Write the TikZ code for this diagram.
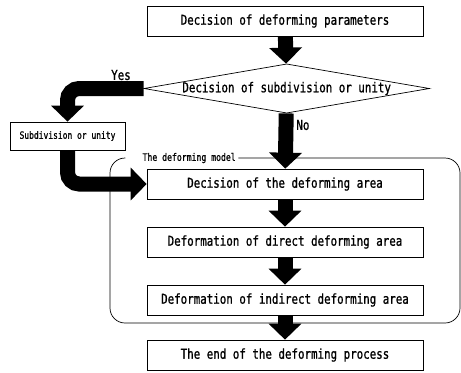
\documentclass[tikz,border=0pt]{standalone}
\usepackage{fontspec}
\usetikzlibrary{shapes.geometric, arrows.meta}
\newfontfamily\gothic[FakeStretch=0.79, FakeBold=1]{DejaVu Sans Mono}

\begin{document}
\begin{tikzpicture}[box/.style={rectangle, draw=black, line width=0.6pt, minimum width=8.28cm, minimum height=0.9cm, inner sep=0pt, font=\gothic\fontsize{11.7}{14}\selectfont},
                    choice/.style={diamond, draw=black, line width=0.6pt, aspect=5.8, inner sep=0pt, minimum width=8.19cm, minimum height=1.41cm, font=\gothic\fontsize{11.7}{14}\selectfont},
                    smallbox/.style={rectangle, draw=black, line width=0.6pt, minimum width=3.45cm, minimum height=0.84cm, inner sep=0pt, font=\gothic\fontsize{8.6}{10}\selectfont},
                    answer/.style={inner sep=1pt, font=\gothic\fontsize{11.7}{14}\selectfont},
                    bigarrow/.style={line width=0.45cm, -{Triangle[width=0.96cm, length=0.48cm]}},
                    every edge/.style={draw}]
                        \useasboundingbox (0,0) rectangle (13.83,-11.16);

                        % Define nodes
                        \node[box] (param) at (8.55,-0.63) {Decision of deforming parameters}; % Start
                        \node[choice] (split) at (8.6,-2.655) {Decision of subdivision or unity}; % Question
                        \node[smallbox] (sub) at (2.025,-4.08) {Subdivision or unity}; % Yes branch
                        \node[box] (area) at (8.55,-5.52) {Decision of the deforming area};
                        \node[box] (direct) at (8.55,-7.26) {Deformation of direct deforming area};
                        \node[box] (indirect) at (8.55,-9.0) {Deformation of indirect deforming area};
                        \node[box] (finish) at (8.55,-10.65) {The end of the deforming process}; % End

                        % The deforming model frame
                        \node[anchor=west, inner xsep=2pt, inner ysep=1pt, font=\gothic\fontsize{8.8}{10}\selectfont] (model) at (4.2,-4.74) {The deforming model};
                        \draw[line width=0.6pt, rounded corners=0.45cm] (model.east |- 0,-4.74) -- (13.8,-4.74) -- (13.8,-9.69) -- (3.3,-9.69) -- (3.3,-4.74) -- (3.76,-4.74);

                        % Answer labels
                        \node[answer] (yes) at (3.63,-2.25) {Yes};
                        \node[answer, anchor=west] (no) at (8.85,-3.75) {No};

                        % Define edges
                        \path [bigarrow](param) edge (split);
                        \path [bigarrow](split) edge (area);
                        \path [bigarrow](area) edge (direct);
                        \path [bigarrow](direct) edge (indirect);
                        \path [bigarrow](indirect) edge (finish);
                        \draw [bigarrow, rounded corners=0.35cm](split.west) -| (sub.north);
                        \draw [bigarrow, rounded corners=0.35cm](sub.south) |- (area.west);
                        \end{tikzpicture}
\end{document}
